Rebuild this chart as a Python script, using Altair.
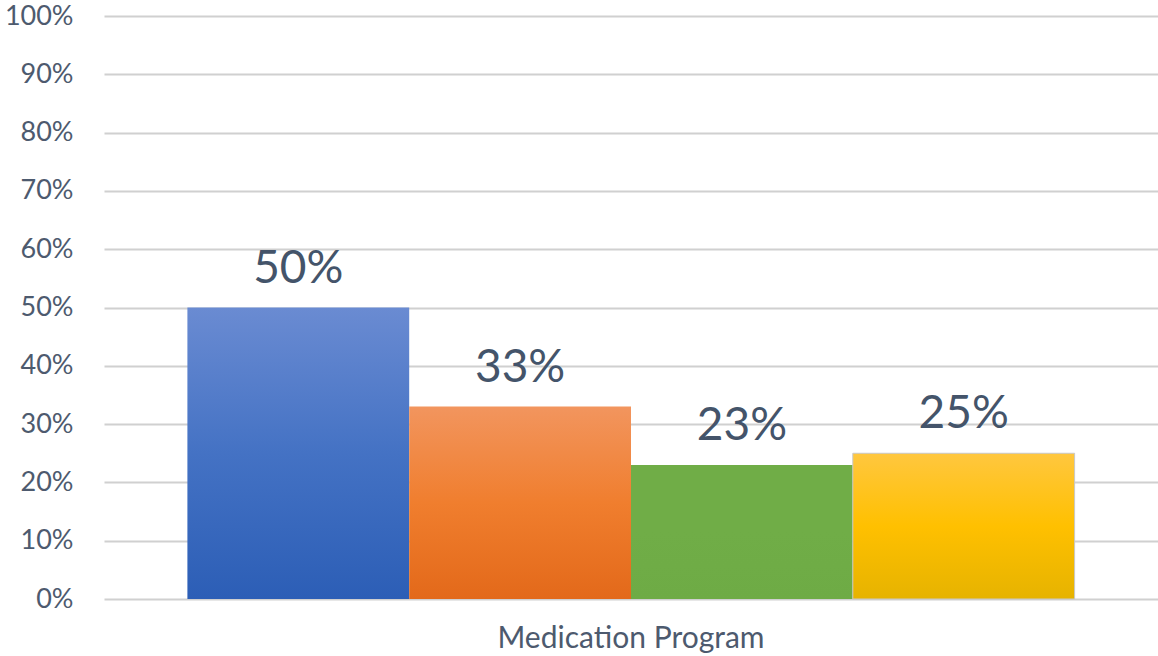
import altair as alt
import pandas as pd

category = "Medication Program"
series = ["S1", "S2", "S3", "S4"]
values = [0.50, 0.33, 0.23, 0.25]
y_ticks = [0, 0.1, 0.2, 0.3, 0.4, 0.5, 0.6, 0.7, 0.8, 0.9, 1.0]

# gradient stops per series: (top, middle, bottom)
gradients = [
    ("#6A8BD2", "#4472C4", "#2C5EB6"),
    ("#F2955E", "#F07E2E", "#E3691A"),
    ("#70AD47", "#70AD47", "#6EAB45"),
    ("#FFC73F", "#FFC000", "#E6B300"),
]

df = pd.DataFrame({"cat": [category] * len(series), "series": series, "value": values})

FONT = "Lato"
TEXT_COLOR = "#44546A"

x_enc = alt.X("cat:N", title=None,
              scale=alt.Scale(paddingInner=0, paddingOuter=0.094),
              axis=alt.Axis(labelAngle=0, labelFontSize=30, labelColor="#4D5A6E",
                            labelFont=FONT, ticks=False, domain=False, labelPadding=24,
                            labelLimit=0, grid=False))
xoff_enc = alt.XOffset("series:N", scale=alt.Scale(domain=series, paddingInner=0, paddingOuter=0))
y_enc = alt.Y("value:Q", title=None,
              scale=alt.Scale(domain=[0, 1], nice=False),
              axis=alt.Axis(values=y_ticks, format=".0%", labelFontSize=27, labelColor="#4D5A6E",
                            labelFont=FONT, ticks=False, domain=False, labelPadding=31,
                            gridColor="#D0D0D0", gridWidth=2))

layers = []
for s, (top, mid, bot) in zip(series, gradients):
    grad = alt.Gradient(gradient="linear", x1=0, x2=0, y1=0, y2=1,
                        stops=[alt.GradientStop(color=top, offset=0),
                               alt.GradientStop(color=mid, offset=0.5),
                               alt.GradientStop(color=bot, offset=1)])
    kw = {}
    if s == "S4":
        kw = dict(stroke="#C8C8C8", strokeWidth=1)
    layers.append(
        alt.Chart(df).transform_filter(alt.datum.series == s)
        .mark_bar(fill=grad, **kw)
        .encode(x=x_enc, xOffset=xoff_enc, y=y_enc)
    )

labels = alt.Chart(df).mark_text(dy=-25, baseline="alphabetic", fontSize=46,
                                 font=FONT, color=TEXT_COLOR).encode(
    x=x_enc, xOffset=xoff_enc, y=y_enc,
    text=alt.Text("value:Q", format=".0%"))

chart = alt.layer(*layers, labels).properties(
    width=1054, height=583,
    autosize=alt.AutoSizeParams(type="none"),
    padding={"left": 104, "top": 16, "right": 0, "bottom": 57},
    background="white",
).configure_view(stroke=None)

chart.save("out.html", embed_options={"renderer": "svg", "actions": False})
